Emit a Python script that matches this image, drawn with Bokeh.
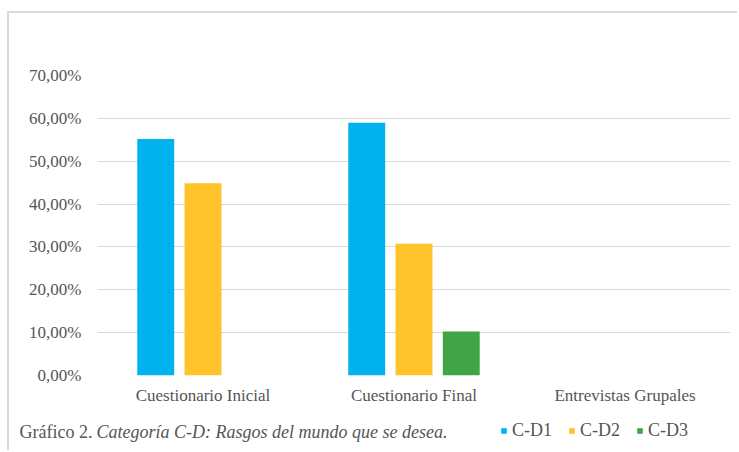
from bokeh.plotting import figure
from bokeh.models import FactorRange, ColumnDataSource, FixedTicker, Label, Legend, LegendItem, Range1d
from bokeh.transform import dodge
from bokeh.embed import file_html
from bokeh.resources import INLINE

categories = ["Cuestionario Inicial", "Cuestionario Final", "Entrevistas Grupales"]
series_names = ["C-D1", "C-D2", "C-D3"]
cd1 = [55.17, 58.97, 0.0]
cd2 = [44.83, 30.77, 0.0]
cd3 = [0.0, 10.26, 0.0]
y_ticks = [0, 10, 20, 30, 40, 50, 60, 70]
y_tick_labels = ["0,00%", "10,00%", "20,00%", "30,00%", "40,00%", "50,00%", "60,00%", "70,00%"]
caption_plain = "Gráfico 2."
caption_italic = "Categoría C-D: Rasgos del mundo que se desea."

colors = ["#00B3EF", "#FEC22B", "#41A548"]
FONT = "Liberation Serif"
TXT = "#555555"
BORDER = "2px solid #d9d9d9"

src = ColumnDataSource(dict(cat=categories, cd1=cd1, cd2=cd2, cd3=cd3))

# ---- main chart ----
p = figure(x_range=FactorRange(*categories, range_padding=0), y_range=(0, 70),
           width=730, height=399, output_backend="svg", toolbar_location=None,
           min_border_left=88, min_border_right=9, min_border_top=62, min_border_bottom=37,
           margin=(11, 0, 0, 7), styles={"border-top": BORDER, "border-left": BORDER})
p.outline_line_color = None
p.background_fill_color = "white"
p.border_fill_color = "white"

offsets = [-0.224, 0.0, 0.224]
for col, off, c in zip(["cd1", "cd2", "cd3"], offsets, colors):
    p.vbar(x=dodge("cat", off, range=p.x_range), top=col, width=0.175, source=src,
           fill_color=c, line_color=None)

p.xgrid.grid_line_color = None
p.ygrid.grid_line_color = "#d9d9d9"
p.ygrid.grid_line_width = 1
p.yaxis.ticker = FixedTicker(ticks=y_ticks)
p.yaxis.major_label_overrides = {t: l for t, l in zip(y_ticks, y_tick_labels)}
for ax in (p.xaxis, p.yaxis):
    ax.axis_line_color = None
    ax.major_tick_line_color = None
    ax.minor_tick_line_color = None
    ax.major_tick_out = 0
    ax.major_tick_in = 0
    ax.major_label_text_font = FONT
    ax.major_label_text_font_size = "17px"
    ax.major_label_text_color = TXT
p.yaxis.major_label_standoff = 16
p.xaxis.major_label_standoff = 10

# ---- caption + legend strip (separate root, so its frame is not aligned with the chart) ----
q = figure(x_range=Range1d(0, 730), y_range=Range1d(40, 0), width=730, height=40,
           output_backend="svg", toolbar_location=None,
           min_border_left=0, min_border_right=0, min_border_top=0, min_border_bottom=0,
           margin=(0, 0, 0, 7), styles={"border-left": BORDER})
q.axis.visible = False
q.grid.grid_line_color = None
q.outline_line_color = None
q.background_fill_color = "white"
q.border_fill_color = "white"

q.add_layout(Label(x=10, y=21, text=caption_plain,
                   text_font=FONT, text_font_size="18px", text_color=TXT,
                   text_baseline="middle"))
q.add_layout(Label(x=87, y=21, text=caption_italic,
                   text_font=FONT, text_font_size="18px", text_color=TXT,
                   text_font_style="italic", text_baseline="middle"))

# zero-size proxy bars that only serve as legend keys
key_src = ColumnDataSource(dict(x=[0], top=[0]))
key_renderers = [q.vbar(x="x", top="top", width=0, source=key_src, fill_color=c, line_color=None)
                 for c in colors]
legend = Legend(items=[LegendItem(label=n, renderers=[r]) for n, r in zip(series_names, key_renderers)],
                orientation="horizontal", location=(491, 9),
                glyph_width=7, glyph_height=7, label_standoff=5, spacing=16,
                padding=0, margin=0, border_line_color=None, background_fill_alpha=0,
                label_text_font=FONT, label_text_font_size="18px", label_text_color=TXT)
q.add_layout(legend, "center")

open("out.html", "w").write(file_html([p, q], INLINE))
